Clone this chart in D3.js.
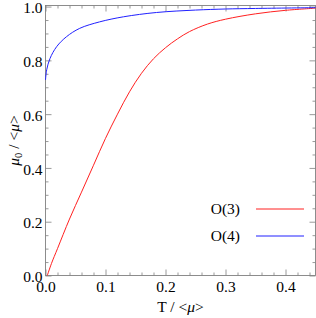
<!DOCTYPE html>
<html><head><meta charset="utf-8">
<script src="https://cdn.jsdelivr.net/npm/d3@7"></script>
<style>body{margin:0;background:#fff} svg text, svg tspan{font-family:"Liberation Serif", "DejaVu Serif", serif !important;}</style>
</head><body><svg id="c" width="316" height="318"></svg>
<script>
const o3T = [0.003,0.01,0.02,0.04,0.06,0.08,0.10,0.12,0.14,0.16,0.18,0.20,0.22,0.24,0.27,0.30,0.35,0.40,0.45];
const o3V = [0.0,0.045,0.10,0.21,0.31,0.41,0.51,0.600,0.683,0.752,0.806,0.847,0.880,0.907,0.935,0.953,0.973,0.986,0.994];
const o4T = [0.0,0.002,0.0075,0.0186,0.035,0.057,0.09,0.13,0.185,0.25,0.30,0.35,0.45];
const o4V = [0.727,0.765,0.807,0.851,0.888,0.919,0.943,0.962,0.978,0.987,0.991,0.993,0.996];
const xTicks = [0,0.1,0.2,0.3,0.4];
const yTicks = [0,0.2,0.4,0.6,0.8,1.0];
const seriesNames = ["O(3)","O(4)"];
const colors = ["#ff2020","#2020ff"];

const FONT = "Liberation Serif, DejaVu Serif, serif";
const FS = "15.5px";
const svg = d3.select("#c").attr("font-family",FONT);
const L=45.5,R=315.5,T=5.5,B=275.5;
const x = d3.scaleLinear().domain([0,0.45]).range([L,R]);
const y = d3.scaleLinear().domain([0,1.004]).range([B,T]);
const frameCol="#808080";

const xMinor = d3.range(0,0.451,0.02).filter(v=>xTicks.every(t=>Math.abs(t-v)>1e-6));
const yMinor = d3.range(0,1.001,0.05).filter(v=>yTicks.every(t=>Math.abs(t-v)>1e-6));

function axis(gen, transform, major, minor, labels){
  const g = svg.append("g").attr("transform",transform);
  g.call(gen.tickValues(major).tickSizeInner(-6).tickSizeOuter(0).tickFormat(labels?d3.format(".1f"):""));
  const gm = svg.append("g").attr("transform",transform);
  gm.call(gen.tickValues(minor).tickSizeInner(-3).tickSizeOuter(0).tickFormat(""));
  [g,gm].forEach(s=>{s.attr("font-family",FONT);s.select(".domain").remove();s.selectAll("line").attr("stroke",frameCol).attr("stroke-width",0.8);});
  return g;
}
const gb = axis(d3.axisBottom(x), `translate(0,${B})`, xTicks, xMinor, true);
gb.selectAll("text").attr("font-size",FS).attr("fill","#000").attr("y",5).attr("dy","0.71em");
axis(d3.axisTop(x), `translate(0,${T})`, xTicks, xMinor, false);
const gl = axis(d3.axisLeft(y), `translate(${L},0)`, yTicks, yMinor, true);
gl.selectAll("text").attr("font-size",FS).attr("fill","#000").attr("x",-3).attr("dy","0.40em");
axis(d3.axisRight(y), `translate(${R},0)`, yTicks, yMinor, false);

svg.append("rect").attr("x",L).attr("y",T).attr("width",R-L).attr("height",B-T)
  .attr("fill","none").attr("stroke",frameCol).attr("stroke-width",0.9);

const line = d3.line().x(d=>x(d[0])).y(d=>y(d[1])).curve(d3.curveCatmullRom.alpha(0.5));
const data = [d3.zip(o3T,o3V), d3.zip(o4T,o4V)];
svg.append("g").selectAll("path").data(data).join("path")
  .attr("d",line).attr("fill","none").attr("stroke",(d,i)=>colors[i]).attr("stroke-width",1);

// legend
const leg = svg.append("g");
seriesNames.forEach((n,i)=>{
  const yy = 209 + i*27;
  leg.append("text").attr("x",240).attr("y",yy).attr("dy","0.35em").attr("text-anchor","end")
    .attr("font-size",FS).text(n);
  leg.append("line").attr("x1",256).attr("x2",304).attr("y1",yy).attr("y2",yy)
    .attr("stroke",colors[i]).attr("stroke-width",1);
});

// axis titles
const xt = svg.append("text").attr("x",(L+R)/2).attr("y",312).attr("text-anchor","middle").attr("font-size",FS);
xt.append("tspan").text("T / <");
xt.append("tspan").attr("font-style","italic").text("μ");
xt.append("tspan").text(">");

const yt = svg.append("text").attr("transform",`translate(19,${(T+B)/2}) rotate(-90)`).attr("text-anchor","middle").attr("font-size",FS);
yt.append("tspan").attr("font-style","italic").text("μ");
yt.append("tspan").attr("font-size","10.5px").attr("dy","3").text("0");
yt.append("tspan").attr("dy","-3").text(" / <");
yt.append("tspan").attr("font-style","italic").text("μ");
yt.append("tspan").text(">");
</script></body></html>
